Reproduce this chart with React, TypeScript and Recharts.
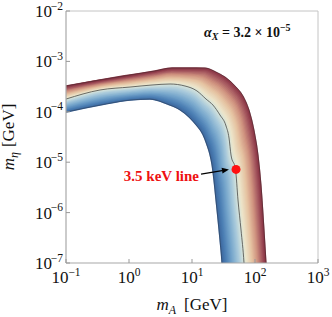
import React from 'react';
import { LineChart, Line, XAxis, YAxis, ReferenceDot, ReferenceLine, Customized } from 'recharts';

// Band boundaries, matched point by point across the band
const lowerX = [0.1, 0.347, 1.04, 2.15, 4.01, 6.45, 9.29, 12.0, 15.0, 17.3, 19.3, 20.8, 22.3, 24.0, 25.9, 27.8, 29.9, 31.0];
const lowerY = [9.9e-5, 1.36e-4, 1.71e-4, 1.79e-4, 1.43e-4, 1.09e-4, 7.53e-5, 5.23e-5, 3.47e-5, 2.19e-5, 1.39e-5, 8.8e-6, 4.44e-6, 1.78e-6, 7.13e-7, 2.86e-7, 1e-7, 4.6e-8];
const centerX = [0.1, 0.347, 1.04, 2.32, 4.48, 7.74, 12.0, 16.7, 21.5, 27.8, 34.7, 38.7, 41.6, 49.0, 53.7, 60.0, 66.9, 69.4];
const centerY = [1.79e-4, 2.71e-4, 3.1e-4, 3.4e-4, 3.56e-4, 3.25e-4, 2.59e-4, 1.79e-4, 1.36e-4, 8.64e-5, 5.23e-5, 3.02e-5, 1.39e-5, 7.2e-6, 1.78e-6, 4.52e-7, 1e-7, 4.6e-8];
const upperX = [0.1, 0.347, 1.04, 2.59, 4.82, 9.29, 16.1, 24.0, 33.4, 48.2, 64.5, 80.3, 96.4, 111.6, 124.5, 139, 149.6, 155];
const upperY = [3.25e-4, 4.28e-4, 5.37e-4, 6.45e-4, 7.4e-4, 7.4e-4, 7.4e-4, 6.16e-4, 4.9e-4, 3.25e-4, 2.06e-4, 1.09e-4, 4.35e-5, 1.39e-5, 3.53e-6, 4.52e-7, 1e-7, 4.6e-8];

const xTicks = [0.1, 1, 10, 100, 1000];
const xTickExps = ['\u22121', '0', '1', '2', '3'];
const yTicks = [1e-7, 1e-6, 1e-5, 1e-4, 1e-3, 1e-2];
const yTickExps = ['\u22127', '\u22126', '\u22125', '\u22124', '\u22123', '\u22122'];

const benchmark = { x: 50, y: 7.2e-6 };
const arrowTail = { x: 13.9, y: 5.8e-6 };
const arrowHead = { x: 38.6, y: 7.16e-6 };

const SERIF = '"Liberation Serif", "Times New Roman", serif';

const toPts = (xs: number[], ys: number[]) => xs.map((x, i) => ({ x, y: ys[i] }));
const lower = toPts(lowerX, lowerY);
const center = toPts(centerX, centerY);
const upper = toPts(upperX, upperY);

// colour shading across the band (blue edge -> red edge)
const stops: [number, number[]][] = [
  [0.0, [58, 99, 153]],
  [0.1, [74, 125, 179]],
  [0.25, [118, 166, 204]],
  [0.4, [169, 202, 219]],
  [0.5, [211, 226, 220]],
  [0.57, [236, 230, 203]],
  [0.7, [230, 195, 162]],
  [0.82, [207, 146, 127]],
  [0.92, [169, 93, 98]],
  [1.0, [138, 52, 69]],
];
function colorAt(t: number) {
  for (let i = 0; i < stops.length - 1; i++) {
    const [t0, c0] = stops[i];
    const [t1, c1] = stops[i + 1];
    if (t <= t1) {
      const s = (t - t0) / (t1 - t0);
      const c = c0.map((v, k) => Math.round(v + (c1[k] - v) * s));
      return `rgb(${c[0]},${c[1]},${c[2]})`;
    }
  }
  const c = stops[stops.length - 1][1];
  return `rgb(${c[0]},${c[1]},${c[2]})`;
}
function shadeCurve(t: number) {
  const [a, b, s] = t <= 0.5 ? [lower, center, t / 0.5] : [center, upper, (t - 0.5) / 0.5];
  return a.map((p, i) => ({
    x: Math.pow(10, Math.log10(p.x) * (1 - s) + Math.log10(b[i].x) * s),
    y: Math.pow(10, Math.log10(p.y) * (1 - s) + Math.log10(b[i].y) * s),
  }));
}
const N = 44;
const shades = Array.from({ length: N }, (_, i) => {
  const t = 0.012 + (0.976 * i) / (N - 1);
  return { t, data: shadeCurve(t), color: colorAt(t) };
});

const XTick = (props: any) => {
  const { x, y, index } = props;
  return (
    <g>
      <line x1={x} y1={y} x2={x} y2={y - 4} stroke="#999" strokeWidth={1} />
      <text x={x} y={y + 20} textAnchor="middle" fontFamily={SERIF} fontSize={17} fill="#111">
        10<tspan dy={-7.5} fontSize={11.5}>{xTickExps[index]}</tspan>
      </text>
    </g>
  );
};
const YTick = (props: any) => {
  const { x, y, index } = props;
  return (
    <g>
      <line x1={x} y1={y} x2={x + 4} y2={y} stroke="#999" strokeWidth={1} />
      <text x={x - 14} y={y + 6} textAnchor="end" fontFamily={SERIF} fontSize={17} fill="#111">
        10
      </text>
      <text x={x - 3} y={y - 1.5} textAnchor="end" fontFamily={SERIF} fontSize={11.5} fill="#111">
        {yTickExps[index]}
      </text>
    </g>
  );
};

const Arrow = (props: any) => {
  const { x1, y1, x2, y2 } = props;
  const ang = Math.atan2(y2 - y1, x2 - x1);
  const L = 7, W = 3;
  const c = Math.cos(ang), s = Math.sin(ang);
  const bx = x2 - L * c, by = y2 - L * s;
  return (
    <g>
      <line x1={x1} y1={y1} x2={bx} y2={by} stroke="#000" strokeWidth={1.2} />
      <polygon points={`${x2},${y2} ${bx - W * s},${by + W * c} ${bx + W * s},${by - W * c}`} fill="#000" />
      <text x={x1 - 2} y={y1 + 7} textAnchor="end" fontFamily={SERIF} fontWeight="bold" fontSize={15} fill="#ee1111">
        3.5 keV line
      </text>
    </g>
  );
};

const Texts = () => (
  <g>
    <text x={192} y={310} textAnchor="middle" fontFamily={SERIF} fontSize={17} fill="#111">
      <tspan fontStyle="italic">m</tspan>
      <tspan fontSize={12} dy={4} fontStyle="italic">A</tspan>
      <tspan dy={-4} dx={8}>[GeV]</tspan>
    </text>
    <text transform="translate(14,137) rotate(-90)" textAnchor="middle" fontFamily={SERIF} fontSize={17} fill="#111">
      <tspan fontStyle="italic">m</tspan>
      <tspan fontSize={12} dy={4} fontStyle="italic">η</tspan>
      <tspan dy={-4} dx={5}>[GeV]</tspan>
    </text>
    <text x={204} y={37} fontFamily={SERIF} fontSize={14} fontWeight="bold" fill="#111">
      <tspan fontStyle="italic">α</tspan>
      <tspan fontSize={10} dy={3} fontStyle="italic">X</tspan>
      <tspan dy={-3}> = 3.2 × 10</tspan>
      <tspan fontSize={10} dy={-6}>{'\u22125'}</tspan>
    </text>
  </g>
);

export default function App() {
  return (
    <div style={{ position: 'absolute', left: 0, top: 0, background: '#fff' }}>
      <LineChart width={332} height={317} margin={{ top: 11, right: 14, left: 0, bottom: 0 }}>
        <XAxis
          dataKey="x"
          type="number"
          scale="log"
          domain={[0.1, 1000]}
          ticks={xTicks}
          allowDataOverflow
          height={54}
          tickSize={0}
          tickMargin={0}
          tick={<XTick />}
          axisLine={{ stroke: '#a8a8a8', strokeWidth: 1.2 }}
          interval={0}
        />
        <YAxis
          dataKey="y"
          type="number"
          scale="log"
          domain={[1e-7, 1e-2]}
          ticks={yTicks}
          allowDataOverflow
          width={66}
          tickSize={0}
          tickMargin={0}
          tick={<YTick />}
          axisLine={{ stroke: '#a8a8a8', strokeWidth: 1.2 }}
          interval={0}
        />
        <ReferenceLine y={1e-2} stroke="#c4c4c4" strokeWidth={1} />
        <ReferenceLine x={1000} stroke="#c4c4c4" strokeWidth={1} />
        {shades.map((s, i) => (
          <Line
            key={`shade-${i}`}
            data={s.data}
            dataKey="y"
            type="monotone"
            stroke={s.color}
            strokeWidth={2.2}
            dot={false}
            activeDot={false}
            isAnimationActive={false}
          />
        ))}
        <Line data={lower} dataKey="y" type="monotone" stroke="#2d3d55" strokeOpacity={0.75} strokeWidth={0.7} dot={false} activeDot={false} isAnimationActive={false} />
        <Line data={upper} dataKey="y" type="monotone" stroke="#3d2228" strokeOpacity={0.75} strokeWidth={0.7} dot={false} activeDot={false} isAnimationActive={false} />
        <Line data={center} dataKey="y" type="monotone" stroke="#4a4a48" strokeWidth={0.8} dot={false} activeDot={false} isAnimationActive={false} />
        <ReferenceLine segment={[arrowTail, arrowHead]} shape={<Arrow />} />
        <ReferenceDot x={benchmark.x} y={benchmark.y} r={4.5} fill="#ff1010" stroke="none" />
        <Customized component={<Texts />} />
      </LineChart>
    </div>
  );
}
